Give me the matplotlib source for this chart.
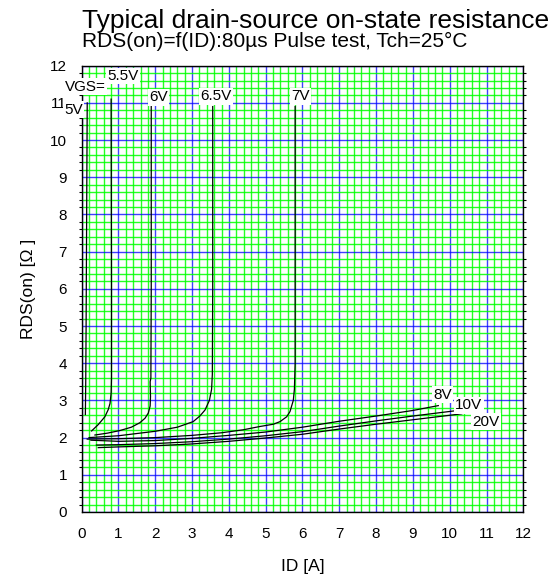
import numpy as np
import matplotlib
matplotlib.use("Agg")
import matplotlib.pyplot as plt
from matplotlib.ticker import MultipleLocator

plt.rcParams['font.family'] = ['Liberation Sans', 'DejaVu Sans']

# curves: ID [A] vs RDS(on) [ohm]
id_5v = [0.10, 0.11, 0.12, 0.13, 0.14, 0.15]
r_5v = [2.62, 3.5, 5.0, 7.0, 9.0, 11.0]

id_55v = [0.27, 0.45, 0.63, 0.72, 0.77, 0.80, 0.81, 0.81, 0.80]
r_55v = [2.18, 2.35, 2.56, 2.75, 2.92, 3.2, 3.6, 6.0, 11.1]

id_6v = [0.36, 0.70, 1.04, 1.35, 1.58, 1.72, 1.81, 1.86, 1.87, 1.86, 1.88, 1.89, 1.89]
r_6v = [2.07, 2.12, 2.19, 2.28, 2.40, 2.52, 2.66, 2.85, 3.1, 3.5, 3.6, 6.0, 10.95]

id_65v = [0.20, 1.0, 2.0, 2.6, 3.03, 3.21, 3.35, 3.47, 3.53, 3.55, 3.56, 3.56]
r_65v = [2.00, 2.05, 2.17, 2.28, 2.43, 2.58, 2.74, 3.0, 3.3, 3.7, 6.0, 10.9]

id_7v = [0.15, 1.0, 2.0, 3.0, 3.8, 4.39, 4.85, 5.21, 5.39, 5.57, 5.66, 5.75, 5.78, 5.80, 5.80]
r_7v = [1.96, 1.97, 2.00, 2.06, 2.13, 2.21, 2.30, 2.36, 2.43, 2.56, 2.70, 3.0, 3.3, 4.0, 10.9]

id_8v = [0.25, 1.0, 2.0, 3.0, 4.0, 5.0, 6.0, 7.0, 8.0, 9.0, 9.69]
r_8v = [1.93, 1.90, 1.92, 1.98, 2.06, 2.15, 2.28, 2.44, 2.58, 2.73, 2.86]

id_10v = [0.40, 1.0, 2.0, 3.0, 4.0, 5.0, 6.0, 7.0, 8.0, 9.0, 10.14]
r_10v = [1.80, 1.81, 1.84, 1.89, 1.96, 2.05, 2.16, 2.31, 2.45, 2.58, 2.72]

id_20v = [0.45, 1.0, 2.0, 3.0, 4.0, 5.0, 6.0, 7.0, 8.0, 9.0, 10.33]
r_20v = [1.73, 1.75, 1.78, 1.83, 1.90, 1.99, 2.09, 2.23, 2.36, 2.48, 2.64]

curve_labels = ["VGS=", "5V", "5.5V", "6V", "6.5V", "7V", "8V", "10V", "20V"]
label_x = [0.09, -0.23, 1.11, 2.08, 3.64, 5.94, 9.80, 10.52, 10.99]
label_y = [11.43, 10.82, 11.72, 11.15, 11.18, 11.18, 3.15, 2.87, 2.43]

fig = plt.figure(figsize=(5.49, 5.78), dpi=100)
ax = fig.add_axes([0.1488, 0.1142, 0.8044, 0.7722])

ax.set_xlim(0, 12)
ax.set_ylim(0, 12)
ax.xaxis.set_major_locator(MultipleLocator(1))
ax.yaxis.set_major_locator(MultipleLocator(1))
ax.xaxis.set_minor_locator(MultipleLocator(0.2))
ax.yaxis.set_minor_locator(MultipleLocator(0.2))

# grid: green every 0.2, blue every 1
ax.set_axisbelow(True)
ax.grid(which='minor', color='#00ff00', lw=1.0, alpha=0.85)
ax.grid(which='major', color='#0000ff', lw=1.0, alpha=0.75)

for xs, ys in [(id_5v, r_5v), (id_55v, r_55v), (id_6v, r_6v), (id_65v, r_65v),
               (id_7v, r_7v), (id_8v, r_8v), (id_10v, r_10v), (id_20v, r_20v)]:
    ax.plot(xs, ys, color='black', lw=0.9, zorder=3)

for t, x, y in zip(curve_labels, label_x, label_y):
    ax.text(x, y, t, fontsize=11, ha='center', va='center', zorder=5, clip_on=False,
            bbox=dict(facecolor='white', edgecolor='none', pad=1.0))

ax.tick_params(which='major', length=0, labelsize=11)
ax.tick_params(axis='x', which='major', pad=11)
ax.tick_params(axis='y', which='major', pad=10.5)
ax.tick_params(which='minor', length=2, width=0.8, left=True, right=True, bottom=False,
               direction='out')
for s in ax.spines.values():
    s.set_linewidth(1.0)
    s.set_color('black')

fig.text(0.149, 1 - 28 / 578, "Typical drain-source on-state resistance", fontsize=19,
         ha='left', va='baseline')
fig.text(0.149, 1 - 47 / 578, "RDS(on)=f(ID):80µs Pulse test, Tch=25°C", fontsize=15,
         ha='left', va='baseline')
fig.text(302.5 / 549, 1 - 566 / 578, "ID [A]", fontsize=12.5, ha='center', va='center')
fig.text(29 / 549, 1 - 289 / 578, "RDS(on) [Ω ]", fontsize=12.5, ha='center', va='center',
         rotation=90)

fig.savefig("out.png", dpi=100)
